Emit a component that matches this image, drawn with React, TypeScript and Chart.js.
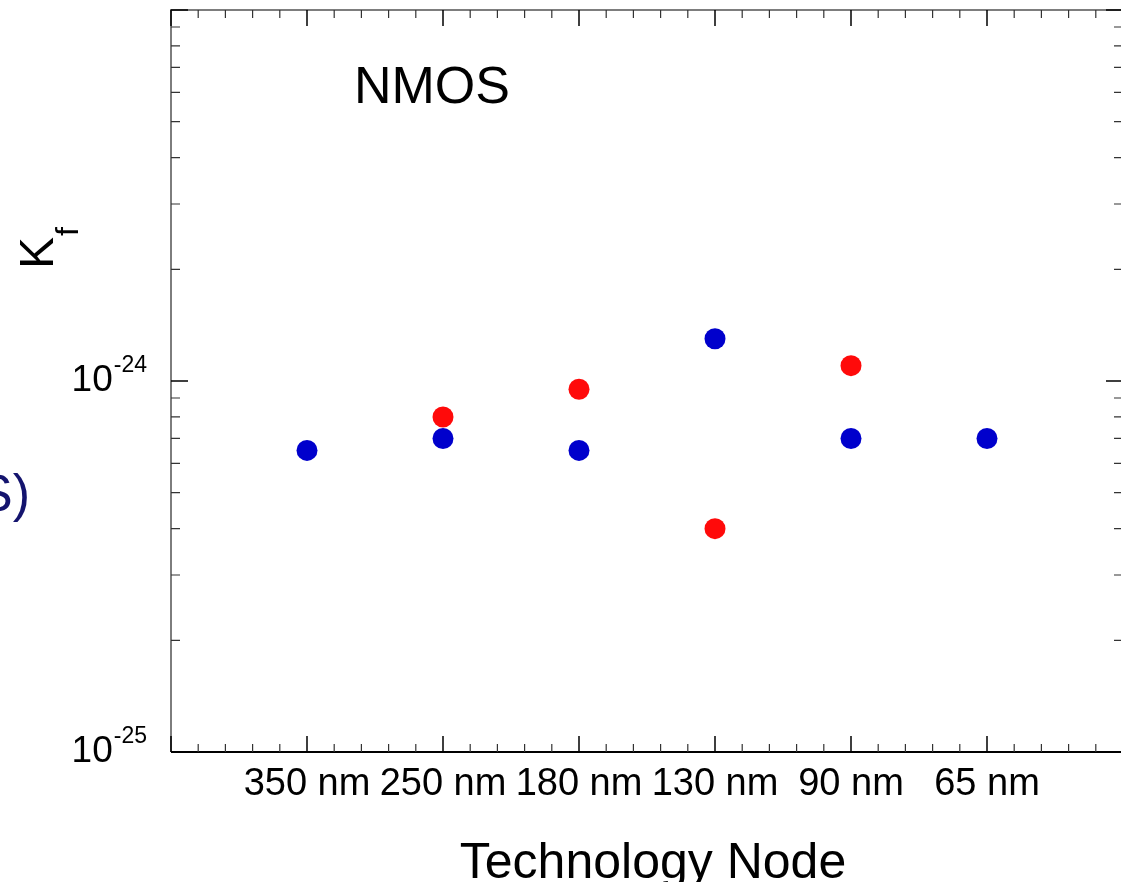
import React, { useEffect, useRef } from 'react';
import { Chart, registerables } from 'chart.js';

Chart.register(...registerables);

// ---- data ----
const nodes = ['350 nm', '250 nm', '180 nm', '130 nm', '90 nm', '65 nm'];
const blueKf: (number | null)[] = [6.5e-25, 7.0e-25, 6.5e-25, 1.3e-24, 7.0e-25, 7.0e-25];
const redKf: (number | null)[] = [null, 8.0e-25, 9.5e-25, 4.0e-25, 1.1e-24, null];
const yLabelExponents = [-25, -24];
const yMin = 1e-25;
const yMax = 1e-23;
const xMin = 0;
const xMax = 7;

const FONT = '"Liberation Sans", Arial, Helvetica, sans-serif';

const toPoints = (arr: (number | null)[]) =>
  arr
    .map((v, i) => (v == null ? null : { x: i + 1, y: v }))
    .filter((p) => p !== null) as { x: number; y: number }[];

const framePlugin = {
  id: 'frame',
  beforeDatasetsDraw(chart: any) {
    const { ctx, chartArea: a, scales } = chart;
    const xs = scales.x;
    const ys = scales.y;
    ctx.save();
    // axis lines
    ctx.lineWidth = 2;
    ctx.strokeStyle = '#7d7d7d';
    ctx.beginPath();
    ctx.moveTo(a.left, a.bottom);
    ctx.lineTo(a.left, a.top);
    ctx.lineTo(a.right, a.top);
    ctx.lineTo(a.right, a.bottom);
    ctx.stroke();
    ctx.strokeStyle = '#000';
    ctx.beginPath();
    ctx.moveTo(a.left, a.bottom);
    ctx.lineTo(a.right, a.bottom);
    ctx.stroke();

    // x ticks (bottom and top), 5 subdivisions
    for (let i = xMin * 5; i <= xMax * 5; i++) {
      const px = xs.getPixelForValue(i / 5);
      const major = i % 5 === 0;
      const len = major ? 16 : 8;
      ctx.strokeStyle = major ? '#000' : '#333';
      ctx.lineWidth = major ? 1.5 : 1.2;
      ctx.beginPath();
      ctx.moveTo(px, a.bottom);
      ctx.lineTo(px, a.bottom - len);
      ctx.moveTo(px, a.top);
      ctx.lineTo(px, a.top + len);
      ctx.stroke();
    }
    // y ticks (left and right), log
    for (let d = -25; d <= -23; d++) {
      for (let m = 1; m <= 9; m++) {
        const v = Number(`${m}e${d}`);
        if (v < yMin * 0.999 || v > yMax * 1.001) continue;
        const py = ys.getPixelForValue(v);
        const major = m === 1;
        const len = major ? 17 : 9;
        ctx.strokeStyle = major ? '#000' : '#333';
        ctx.lineWidth = major ? 1.5 : 1.2;
        ctx.beginPath();
        ctx.moveTo(a.left, py);
        ctx.lineTo(a.left + len, py);
        ctx.moveTo(a.right, py);
        ctx.lineTo(a.right - len, py);
        ctx.stroke();
      }
    }
    ctx.restore();
  },
  afterDraw(chart: any) {
    const { ctx, chartArea: a, scales } = chart;
    const xs = scales.x;
    const ys = scales.y;
    ctx.save();
    ctx.fillStyle = '#000';
    // x tick labels
    ctx.font = `38px ${FONT}`;
    ctx.textAlign = 'center';
    ctx.textBaseline = 'alphabetic';
    nodes.forEach((lab, i) => {
      ctx.fillText(lab, xs.getPixelForValue(i + 1), a.bottom + 43);
    });
    // y tick labels: 10^exp
    yLabelExponents.forEach((e) => {
      const py = ys.getPixelForValue(Number(`1e${e}`));
      const right = 147;
      ctx.font = `23px ${FONT}`;
      ctx.textAlign = 'right';
      const sup = `${e}`;
      const supW = ctx.measureText(sup).width;
      ctx.fillText(sup, right, py - 9);
      ctx.font = `37px ${FONT}`;
      ctx.fillText('10', right - supW - 1, py + 10);
    });
    // axis title
    ctx.font = `50px ${FONT}`;
    ctx.textAlign = 'center';
    ctx.fillText('Technology Node', 653, 878);
    // NMOS annotation
    ctx.font = `52px ${FONT}`;
    ctx.fillText('NMOS', 432, 103);
    // y title K_f (rotated)
    ctx.save();
    ctx.translate(53, 269);
    ctx.rotate(-Math.PI / 2);
    ctx.textAlign = 'left';
    ctx.font = `48px ${FONT}`;
    ctx.fillText('K', 0, 0);
    ctx.font = `32px ${FONT}`;
    ctx.fillText('f', 33, 25);
    ctx.restore();
    // clipped text at the left edge
    ctx.fillStyle = '#14146e';
    ctx.font = `52px ${FONT}`;
    ctx.textAlign = 'right';
    ctx.fillText('S)', 30, 511);
    ctx.restore();
  },
};

export default function App() {
  const ref = useRef<HTMLCanvasElement | null>(null);
  useEffect(() => {
    if (!ref.current) return;
    const chart = new Chart(ref.current, {
      type: 'scatter',
      data: {
        datasets: [
          {
            label: 'blue',
            data: toPoints(blueKf),
            backgroundColor: '#0000cc',
            borderWidth: 0,
            pointRadius: 10.5,
            pointHoverRadius: 10.5,
          },
          {
            label: 'red',
            data: toPoints(redKf),
            backgroundColor: '#ff0a0a',
            borderWidth: 0,
            pointRadius: 10.5,
            pointHoverRadius: 10.5,
          },
        ],
      },
      options: {
        responsive: false,
        animation: false,
        devicePixelRatio: 1,
        layout: { autoPadding: false, padding: { left: 171, top: 10, right: 2, bottom: 130 } },
        plugins: { legend: { display: false }, tooltip: { enabled: false } },
        scales: {
          x: { type: 'linear', min: xMin, max: xMax, display: false },
          y: { type: 'logarithmic', min: yMin, max: yMax, display: false },
        },
      },
      plugins: [framePlugin],
    });
    return () => chart.destroy();
  }, []);
  return (
    <div
      style={{
        position: 'fixed',
        left: 0,
        top: 0,
        width: 1121,
        height: 882,
        overflow: 'hidden',
        background: '#fff',
      }}
    >
      <canvas ref={ref} width={1125} height={882} style={{ display: 'block' }} />
    </div>
  );
}
